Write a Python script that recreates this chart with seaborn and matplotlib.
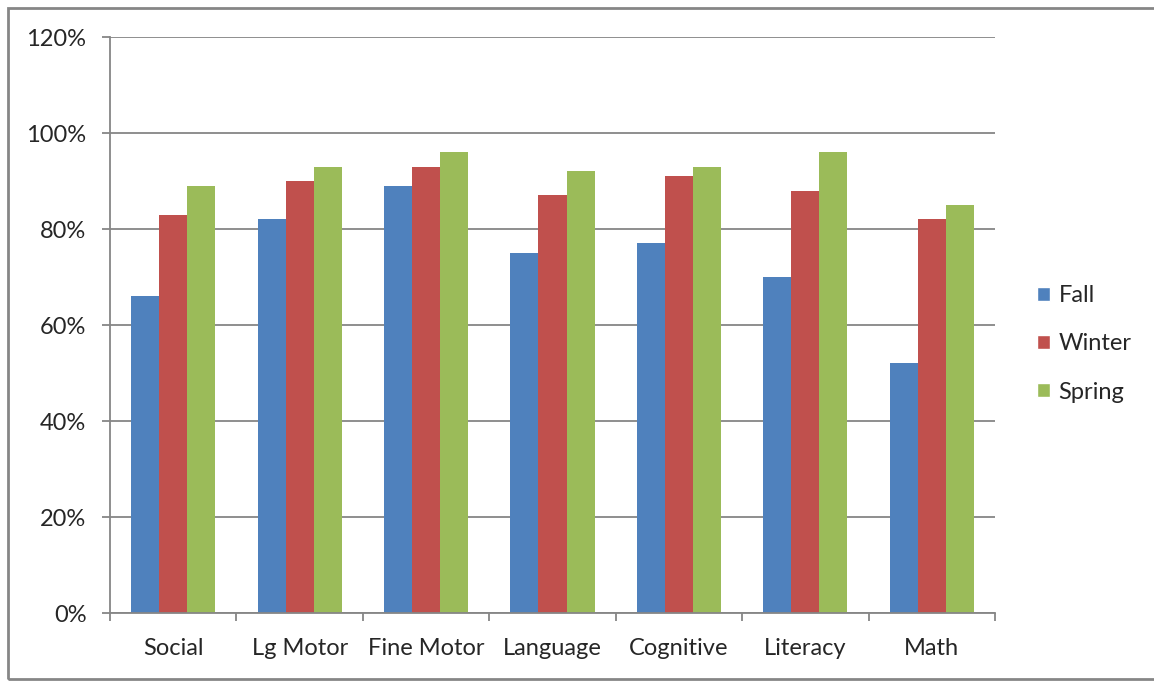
import pandas as pd
import matplotlib.pyplot as plt
import seaborn as sns
from matplotlib.patches import Rectangle, Patch
from matplotlib.ticker import PercentFormatter, FixedLocator

# Data (percent)
categories = ['Social', 'Lg Motor', 'Fine Motor', 'Language', 'Cognitive', 'Literacy', 'Math']
seasons = ['Fall', 'Winter', 'Spring']
fall = [66, 82, 89, 75, 77, 70, 52]
winter = [83, 90, 93, 87, 91, 88, 82]
spring = [89, 93, 96, 92, 93, 96, 85]
colors = ['#4F81BD', '#C0504D', '#9BBB59']

df = pd.DataFrame({
    'category': categories * 3,
    'season': ['Fall'] * 7 + ['Winter'] * 7 + ['Spring'] * 7,
    'value': fall + winter + spring,
})

sns.set_style('white')
plt.rcParams['font.family'] = ['Lato', 'DejaVu Sans']

fig = plt.figure(figsize=(11.54, 6.81), dpi=100)
ax = fig.add_axes([110 / 1154, 1 - 613 / 681, (995 - 110) / 1154, (613 - 37) / 681])

sns.barplot(data=df, x='category', y='value', hue='season', hue_order=seasons,
            palette=colors, width=2 / 3, saturation=1, ax=ax, legend=False,
            linewidth=0)

ax.set_xlim(-0.5, 6.5)
ax.set_ylim(0, 120)
ax.set_yticks(range(0, 121, 20))
ax.yaxis.set_major_formatter(PercentFormatter(decimals=0))
ax.set_xlabel('')
ax.set_ylabel('')

grid_c = '#868686'
ax.yaxis.grid(True, color=grid_c, linewidth=1.3)
ax.set_axisbelow(True)
for s in ['top', 'right']:
    ax.spines[s].set_visible(False)
for s in ['left', 'bottom']:
    ax.spines[s].set_color(grid_c)
    ax.spines[s].set_linewidth(1.3)

fs = 17
ax.tick_params(axis='y', which='major', length=6, width=1.3, color=grid_c, labelsize=fs, pad=11, left=True)
ax.tick_params(axis='x', which='major', length=0, labelsize=fs, pad=18)
ax.xaxis.set_minor_locator(FixedLocator([i - 0.5 for i in range(8)]))
ax.tick_params(axis='x', which='minor', length=6, width=1.3, color=grid_c, bottom=True)

handles = [Patch(facecolor=c, label=s) for c, s in zip(colors, seasons)]
fig.legend(handles=handles, loc='center left', bbox_to_anchor=(1016 / 1154, 1 - 344 / 681),
           frameon=False, fontsize=fs, handlelength=0.55, handleheight=0.55,
           handletextpad=0.35, labelspacing=1.15)

# outer chart border
fig.patches.append(Rectangle((8 / 1154, 2 / 681), 1.05, 1 - 10 / 681, transform=fig.transFigure,
                             fill=False, edgecolor=grid_c, linewidth=2, clip_on=False))

plt.savefig('out.png', dpi=100)
